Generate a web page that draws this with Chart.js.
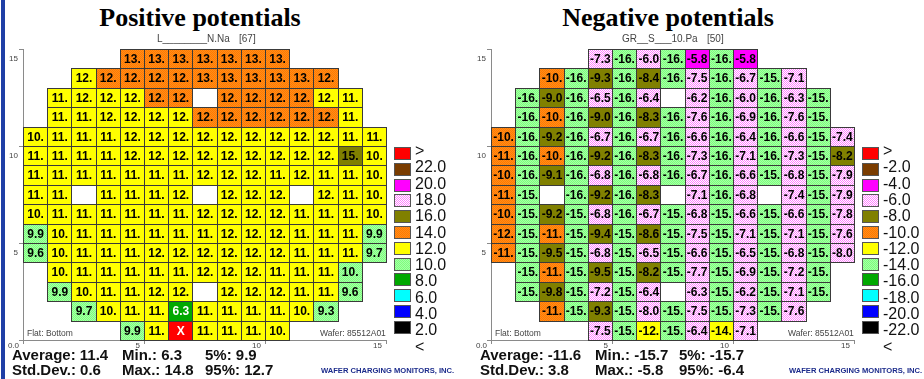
<!DOCTYPE html>
<html>
<head>
<meta charset="utf-8">
<script src="https://cdn.jsdelivr.net/npm/chart.js@4.4.0/dist/chart.umd.min.js"></script>
<style>
  body { margin: 0; width: 924px; height: 379px; background: #fff; position: relative; overflow: hidden; font-family: Arial, "Liberation Sans", sans-serif; }
  .abs { position: absolute; white-space: nowrap; }
  .title { top: 3px; font: bold 26px "Liberation Serif", "Times New Roman", serif; transform: translateX(-50%); line-height: 30px; }
  .sub { font-size: 10px; color: #444; line-height: 10px; top: 34px; }
  .note { font-size: 8.5px; color: #444; line-height: 9px; top: 329px; }
  .stat { font-weight: bold; font-size: 15px; line-height: 15px; color: #111; }
  .brand { font-weight: bold; font-size: 7.6px; color: #1c2c8c; line-height: 8px; top: 367px; }
  .lbox { position: absolute; width: 17px; height: 13px; border: 1px solid #555; box-sizing: border-box; image-rendering: pixelated; }
  .ltxt { position: absolute; font-size: 16px; line-height: 16px; color: #111; }
  .bar { position: absolute; left: 1px; top: 0; width: 4px; height: 379px; background: #1f3fa6; }
  canvas { position: absolute; }
</style>
</head>
<body>
<div class="bar"></div>
<canvas id="posChart" width="395" height="320" style="left:0;top:40px"></canvas>
<canvas id="negChart" width="395" height="320" style="left:468px;top:40px"></canvas>
<script>
// wafer rows from the top row (y 14..15) down to the bottom row (y 0..1)
const rowStart = [4, 2, 1, 1, 0, 0, 0, 0, 0, 0, 0, 1, 1, 2, 4];

// Positive potentials (V), null = no reading
const posRows = [
  [12.8, 12.8, 12.8, 12.7, 12.8, 12.7, 12.6],
  [11.8, 12.2, 12.3, 12.2, 12.3, 12.6, 12.7, 12.6, 12.7, 12.6, 12.2],
  [11.2, 11.7, 11.8, 11.9, 12.1, 12.2, null, 12.1, 12.2, 12.1, 12.1, 11.9, 11.3],
  [11.1, 11.4, 11.6, 11.8, 11.9, 11.9, 12.1, 12.2, 12.1, 12.1, 12.1, 12.0, 11.3],
  [10.3, 11.0, 11.2, 11.3, 11.6, 11.7, 11.8, 11.8, 11.9, 11.9, 11.8, 11.7, 11.6, 11.4, 11.0],
  [10.9, 11.1, 11.2, 11.4, 11.6, 11.7, 11.8, 11.9, 11.8, 11.8, 11.7, 11.7, 11.6, 14.8, 10.4],
  [11.2, 11.3, 11.3, 11.4, 11.4, 11.4, 11.4, 11.5, 11.6, 11.5, 11.4, 11.5, 11.4, 11.1, 10.4],
  [11.0, 11.2, null, 11.3, 11.4, 11.4, 11.5, null, 11.6, 11.6, 11.5, null, 11.5, 11.2, 10.3],
  [10.4, 11.0, 11.2, 11.3, 11.4, 11.4, 11.4, 11.5, 11.6, 11.6, 11.5, 11.4, 11.3, 11.0, 10.3],
  [9.9, 10.4, 11.0, 11.2, 11.3, 11.4, 11.4, 11.4, 11.5, 11.5, 11.5, 11.4, 11.2, 11.0, 9.9],
  [9.6, 10.3, 11.0, 11.2, 11.4, 11.5, 11.6, 11.6, 11.6, 11.6, 11.5, 11.4, 11.2, 11.0, 9.7],
  [10.2, 11.0, 11.1, 11.3, 11.4, 11.4, 11.5, 11.5, 11.5, 11.4, 11.3, 11.0, 9.96],
  [9.9, 10.4, 11.0, 11.3, 11.5, 11.5, null, 11.5, 11.6, 11.5, 11.3, 11.0, 9.6],
  [9.7, 10.3, 11.0, 11.2, 6.3, 11.2, 11.3, 11.2, 11.0, 10.4, 9.3],
  [9.9, 10.9, 'X', 11.1, 11.1, 10.9, 10.4]
];

// Negative potentials (V)
const negRows = [
  [-7.3, -15.6, -6.02, -15.6, -5.8, -15.6, -5.8],
  [-10.2, -15.6, -9.3, -15.6, -8.4, -15.6, -7.5, -15.6, -6.7, -15.2, -7.1],
  [-15.6, -9.0, -15.6, -6.5, -15.6, -6.4, null, -6.2, -15.6, -6.02, -15.6, -6.3, -15.2],
  [-15.6, -10.2, -15.6, -9.0, -15.6, -8.3, -15.6, -7.6, -15.6, -6.9, -15.6, -7.6, -15.2],
  [-10.2, -15.6, -9.2, -15.6, -6.7, -15.6, -6.7, -15.6, -6.6, -15.6, -6.4, -15.6, -6.6, -15.2, -7.4],
  [-11.0, -15.6, -10.2, -15.6, -9.2, -15.6, -8.3, -15.6, -7.3, -15.6, -7.1, -15.6, -7.3, -15.2, -8.2],
  [-10.2, -15.6, -9.1, -15.6, -6.8, -15.6, -6.8, -15.6, -6.7, -15.6, -6.6, -15.2, -6.8, -15.2, -7.9],
  [-11.0, -15.2, null, -15.6, -9.2, -15.6, -8.3, null, -7.1, -15.6, -6.8, null, -7.4, -15.2, -7.9],
  [-10.2, -15.2, -9.2, -15.2, -6.8, -15.6, -6.7, -15.2, -6.8, -15.2, -6.6, -15.2, -6.6, -15.2, -7.8],
  [-11.8, -15.2, -11.0, -15.2, -9.4, -15.2, -8.6, -15.2, -7.5, -15.2, -7.1, -15.2, -7.1, -15.2, -7.6],
  [-11.0, -15.2, -9.5, -15.2, -6.8, -15.2, -6.5, -15.2, -6.6, -15.2, -6.5, -15.2, -6.8, -15.2, -7.98],
  [-15.2, -11.0, -15.2, -9.5, -15.2, -8.2, -15.2, -7.7, -15.2, -6.9, -15.2, -7.2, -15.2],
  [-15.2, -9.8, -15.2, -7.2, -15.2, -6.4, null, -6.3, -15.2, -6.2, -15.2, -7.1, -15.2],
  [-11.0, -15.2, -9.3, -15.2, -7.98, -15.2, -7.5, -15.2, -7.3, -15.2, -7.6],
  [-7.5, -15.2, -12.2, -15.2, -6.4, -13.8, -7.1]
];

// colour scale boundaries (top to bottom of the legend)
const posBounds = [22, 20, 18, 16, 14, 12, 10, 8, 6, 4, 2];
const negBounds = [-2, -4, -6, -8, -10, -12, -14, -16, -18, -20, -22];
const posLegend = ['>', '22.0', '20.0', '18.0', '16.0', '14.0', '12.0', '10.0', '8.0', '6.0', '4.0', '2.0', '<'];
const negLegend = ['>', '-2.0', '-4.0', '-6.0', '-8.0', '-10.0', '-12.0', '-14.0', '-16.0', '-18.0', '-20.0', '-22.0', '<'];
const scaleColors = ['#ff0000', '#7a3c00', '#ff00ff', ['#ff80ff', '#ffffff'], '#808000', ['#ff7a00', '#ff8c1a'],
                     '#ffff00', ['#7dff7d', '#a6ffa6'], '#00a800', '#00ffff', '#0000ff', '#000000'];

const posTitle = 'Positive potentials';
const negTitle = 'Negative potentials';
const posStats = [['Average: 11.4', 'Min.: 6.3', '5%: 9.9'], ['Std.Dev.: 0.6', 'Max.: 14.8', '95%: 12.7']];
const negStats = [['Average: -11.6', 'Min.: -15.7', '5%: -15.7'], ['Std.Dev.: 3.8', 'Max.: -5.8', '95%: -6.4']];

function makeTile(c) {
    const tile = document.createElement('canvas');
    tile.width = 2; tile.height = 2;
    const t = tile.getContext('2d');
    t.fillStyle = c[1]; t.fillRect(0, 0, 2, 2);
    t.fillStyle = c[0]; t.fillRect(0, 0, 1, 1); t.fillRect(1, 1, 1, 1);
    return tile;
}

function makeFill(ctx, c) {
    if (typeof c === 'string') return c;
    return ctx.createPattern(makeTile(c), 'repeat');
}

function cellText(v) {
    if (typeof v === 'string') return v;
    const a = Math.abs(v);
    if (a < 9.95) return v.toFixed(1);
    return (v < 0 ? '-' : '') + Math.round(a) + '.';
}

function colorIndex(v, bounds) {
    if (typeof v === 'string') return 0;
    return bounds.filter(b => v < b).length;
}

// draws each wafer site as a rectangle using the chart scales
const cellPlugin = {
    id: 'cells',
    afterDatasetsDraw(chart) {
        const { ctx, scales: { x, y } } = chart;
        const fills = scaleColors.map(c => makeFill(ctx, c));
        const pts = chart.data.datasets[0].data;
        const box = p => {
            const x0 = Math.round(x.getPixelForValue(p.x - 0.5));
            const x1 = Math.round(x.getPixelForValue(p.x + 0.5));
            const y0 = Math.round(y.getPixelForValue(p.y + 0.5));
            const y1 = Math.round(y.getPixelForValue(p.y - 0.5));
            return [x0, y0, x1 - x0, y1 - y0];
        };
        ctx.save();
        pts.forEach(p => {
            const b = box(p);
            ctx.fillStyle = fills[p.k];
            ctx.fillRect(b[0], b[1], b[2], b[3]);
        });
        ctx.strokeStyle = '#3a3a3a';
        ctx.lineWidth = 1;
        pts.forEach(p => {
            const b = box(p);
            ctx.strokeRect(b[0] + 0.5, b[1] + 0.5, b[2], b[3]);
        });
        ctx.font = 'bold 12px Arial, "Liberation Sans", sans-serif';
        ctx.textAlign = 'center';
        ctx.textBaseline = 'middle';
        pts.forEach(p => {
            ctx.fillStyle = [0, 1, 8, 10, 11].includes(p.k) ? '#ffffff' : '#000000';
            ctx.fillText(p.t, x.getPixelForValue(p.x) + 0.5, y.getPixelForValue(p.y) + 1);
        });
        ctx.restore();
    }
};

function buildMap(canvasId, rows, bounds) {
    const data = [];
    rows.forEach((vals, i) => {
        const r = 14 - i;
        vals.forEach((v, j) => {
            if (v === null) return;
            data.push({ x: rowStart[i] + j + 0.5, y: r + 0.5, v: v, t: cellText(v), k: colorIndex(v, bounds) });
        });
    });
    const tickFont = { size: 8, family: 'Arial' };
    return new Chart(document.getElementById(canvasId), {
        type: 'scatter',
        data: { datasets: [{ data: data, pointRadius: 0, pointHoverRadius: 0 }] },
        options: {
            responsive: false,
            animation: false,
            devicePixelRatio: 1,
            events: [],
            layout: { padding: { top: 9, right: 9, left: 0, bottom: 0 } },
            plugins: { legend: { display: false }, tooltip: { enabled: false } },
            scales: {
                x: {
                    type: 'linear', min: 0, max: 15,
                    afterFit(s) { s.height = 20; },
                    ticks: { stepSize: 5, color: '#444', font: tickFont, align: 'end', labelOffset: -4, padding: -3,
                             maxRotation: 0, autoSkip: false, callback: v => v === 0 ? '0.0' : String(v) },
                    grid: { drawOnChartArea: false, tickLength: 4, color: '#8a8a8a' },
                    border: { color: '#8a8a8a' }
                },
                y: {
                    type: 'linear', min: 0, max: 15,
                    afterFit(s) { s.width = 23; },
                    ticks: { stepSize: 5, color: '#444', font: tickFont, labelOffset: 10, padding: 1,
                             callback: v => v === 0 ? '' : String(v) },
                    grid: { drawOnChartArea: false, tickLength: 4, color: '#8a8a8a' },
                    border: { color: '#8a8a8a' }
                }
            }
        },
        plugins: [cellPlugin]
    });
}

function addText(cls, text, left, top) {
    const d = document.createElement('div');
    d.className = 'abs ' + cls;
    d.textContent = text;
    d.style.left = left + 'px';
    if (top !== null) d.style.top = top + 'px';
    document.body.appendChild(d);
    return d;
}

function addPanel(dx, title, sub, subX, count, stats, legend, statX) {
    addText('title', title, 200 + dx, null);
    addText('sub', sub, subX + dx, null);
    addText('sub', count, 239 + dx, null);
    addText('note', 'Flat: Bottom', 27 + dx, null);
    addText('note', 'Wafer: 85512A01', 320 + dx, null);
    stats.forEach((line, i) => line.forEach((s, j) => addText('stat', s, statX[j] + dx, 347 + i * 15)));
    addText('brand', 'WAFER CHARGING MONITORS, INC.', 321 + dx, null);
    scaleColors.forEach((c, i) => {
        const b = document.createElement('div');
        b.className = 'lbox';
        b.style.left = (394 + dx) + 'px';
        b.style.top = (147 + i * 15.8) + 'px';
        if (typeof c === 'string') b.style.background = c;
        else b.style.background = 'url(' + makeTile(c).toDataURL() + ') repeat';
        document.body.appendChild(b);
    });
    legend.forEach((t, i) => {
        const d = document.createElement('div');
        d.className = 'ltxt';
        d.textContent = t;
        d.style.left = (415 + dx) + 'px';
        d.style.top = (143 + i * 16.3) + 'px';
        document.body.appendChild(d);
    });
}

addPanel(0, posTitle, 'L________N.Na', 157, '[67]', posStats, posLegend, [12, 122, 205]);
addPanel(468, negTitle, 'GR__S___10.Pa', 154, '[50]', negStats, negLegend, [12, 127, 211]);

buildMap('posChart', posRows, posBounds);
buildMap('negChart', negRows, negBounds);
</script>
</body>
</html>
